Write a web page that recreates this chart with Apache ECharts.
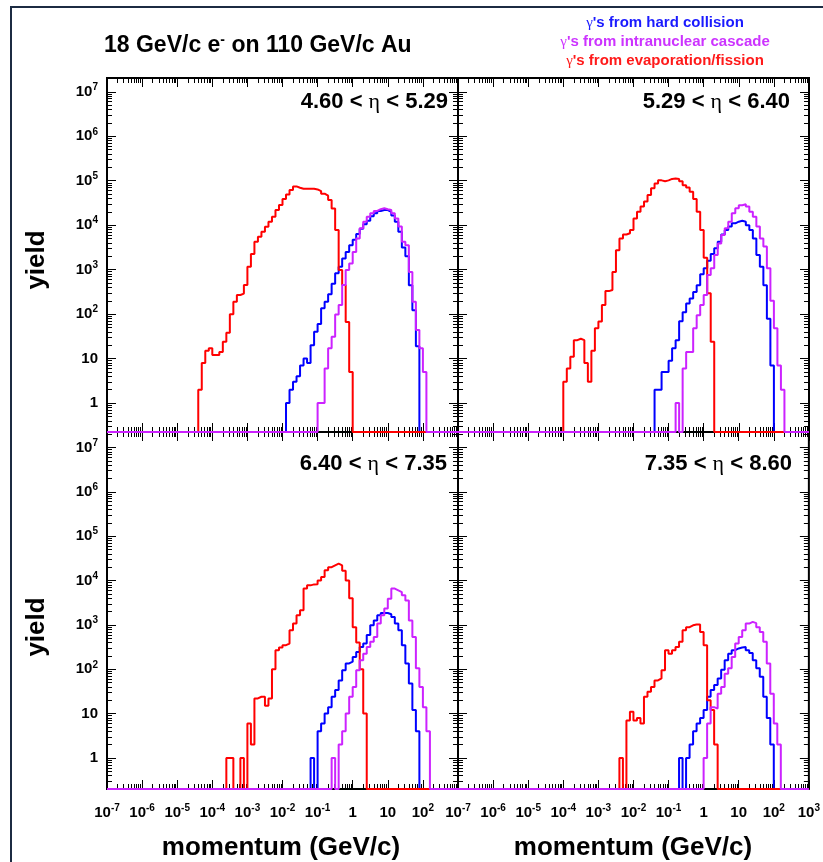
<!DOCTYPE html>
<html>
<head>
<meta charset="utf-8">
<script src="https://cdn.jsdelivr.net/npm/echarts@6/dist/echarts.min.js"></script>
<style>
  html, body { margin: 0; padding: 0; background: #fff; }
  #chart { width: 823px; height: 862px; }
</style>
</head>
<body>
<div id="chart"></div>
<script>
// momentum axis is log10(p / GeV/c), histogram bins are 0.1 decade wide
const logPMin = -7, logPMax = 3;
const binWidth = 0.1;

const etaLow = ['4.60', '5.29', '6.40', '7.35'];
const etaHigh = ['5.29', '6.40', '7.35', '8.60'];
const legendNames = ['hard collision', 'intranuclear cascade', 'evaporation/fission'];

// yields per bin; *Start = log10 of the low edge of the first bin
// panel 1 : 4.60 < eta < 5.29
const hard1Start = -1.9;
const hard1 = [1, 2, 3, 4, 7, 10, 8, 20, 40, 60, 135, 190, 280, 480, 830, 1170, 1780, 2510, 3550, 4680,
  6310, 8320, 10500, 12600, 15800, 18600, 20900, 21900, 21900, 20000, 16600, 12000, 7080, 3160, 2000, 447, 123, 19];
const cascade1Start = -1.0;
const cascade1 = [1, 1, 6, 17, 31, 98, 160, 450, 980, 1380, 2510, 5010, 8510, 12000, 15500, 18600, 20900, 22900,
  24000, 22900, 21900, 18600, 14100, 9330, 4270, 3550, 890, 190, 44, 17, 5];
const evap1Start = -4.4;
const evap1 = [2, 8, 15, 17, 12, 12, 14, 24, 38, 99, 190, 270, 290, 450, 1170, 2240, 4250, 5500, 7130, 9250,
  12000, 15500, 21900, 28400, 38700, 49300, 61700, 74600, 69600, 66100, 66100, 66100, 66100, 63800, 58600,
  51000, 46000, 36700, 23900, 7770, 980, 451, 67, 5];

// panel 2 : 5.29 < eta < 6.40
const hard2Start = -1.4;
const hard2 = [2, 2, 5, 5, 9, 17, 26, 69, 110, 174, 224, 316, 447, 794, 1070, 1580, 2240, 3020, 4270, 6170,
  7760, 9330, 11000, 12000, 12600, 12000, 10000, 7760, 5010, 2140, 1170, 447, 79, 7];
const cascade2Start = -0.8;
const cascade2 = [1, 0, 6, 14, 14, 48, 95, 160, 270, 760, 1070, 2140, 3890, 6030, 8510, 12000, 18600, 24000,
  28200, 29500, 26300, 20000, 15500, 9330, 5010, 3310, 1070, 200, 48, 7, 2];
const evap2Start = -4.0;
const evap2 = [3, 6, 11, 26, 28, 26, 8, 3, 15, 48, 68, 160, 330, 350, 890, 2750, 5000, 6170, 6610, 7760,
  14100, 20000, 26300, 33900, 47900, 67600, 87100, 102000, 97700, 102000, 110000, 112000, 110000, 97700,
  79400, 70800, 56200, 38900, 20000, 7760, 1860, 295, 24];

// panel 3 : 6.40 < eta < 7.35
const hard3Start = -1.2;
const hard3 = [1, 0, 4, 6, 10, 14, 24, 34, 56, 95, 135, 148, 190, 245, 316, 380, 590, 980, 1260, 1660,
  1860, 1860, 1740, 1510, 1070, 760, 350, 135, 48, 12, 4];
const cascade3Start = -0.6;
const cascade3 = [1, 0, 2, 4, 10, 24, 40, 95, 160, 224, 316, 417, 537, 1070, 1660, 2340, 3890, 6610, 6030,
  5500, 4680, 3550, 1260, 537, 105, 40, 14, 4];
const evap3Start = -3.6;
const evap3 = [1, 1, 0, 0, 1, 0, 6, 2, 22, 24, 24, 15, 22, 100, 270, 310, 350, 380, 760, 1070, 1650, 2140,
  6600, 7800, 8200, 8300, 10000, 12000, 17000, 20000, 22000, 24000, 22000, 16600, 10000, 4000, 890, 400, 100, 10];

// panel 4 : 7.35 < eta < 8.60
const hard4Start = -0.7;
const hard4 = [1, 0, 1, 2, 4, 6, 8, 12, 24, 34, 44, 62, 98, 160, 224, 270, 295, 309, 316, 270, 234, 160,
  105, 68, 24, 8, 2];
const cascade4Start = 0.0;
const cascade4 = [1, 6, 14, 13, 28, 40, 79, 105, 190, 380, 537, 760, 1070, 1170, 1100, 890, 690, 417, 135,
  28, 6, 2];
const evap4Start = -2.4;
const evap4 = [1, 0, 7, 11, 7, 8, 6, 24, 31, 40, 56, 62, 95, 270, 224, 270, 316, 417, 760, 890, 980, 1020,
  1020, 690, 350, 20, 12, 2];

const hists = [
  [[hard1Start, hard1], [evap1Start, evap1], [cascade1Start, cascade1]],
  [[hard2Start, hard2], [evap2Start, evap2], [cascade2Start, cascade2]],
  [[hard3Start, hard3], [evap3Start, evap3], [cascade3Start, cascade3]],
  [[hard4Start, hard4], [evap4Start, evap4], [cascade4Start, cascade4]]
];

const FONT = '"Liberation Sans", Arial, Helvetica, sans-serif';
const SERIF = '"Liberation Serif", serif';
const lineColors = ['#0000ff', '#ff0000', '#cc22ff'];
const textColors = ['#1a1aff', '#cc33ff', '#ff1a1a'];

const pads = [
  { left: 107, top: 78, width: 351, height: 354, yMin: -0.65, yMax: 7.31, xLabels: null, yLabels: true, labelX: 448, labelY: 102 },
  { left: 458, top: 78, width: 351, height: 354, yMin: -0.65, yMax: 7.31, xLabels: null, yLabels: false, labelX: 790, labelY: 102 },
  { left: 107, top: 432, width: 351, height: 357, yMin: -0.70, yMax: 7.35, xLabels: [-7, -6, -5, -4, -3, -2, -1, 0, 1, 2], yLabels: true, labelX: 447, labelY: 464 },
  { left: 458, top: 432, width: 351, height: 357, yMin: -0.70, yMax: 7.35, xLabels: [-7, -6, -5, -4, -3, -2, -1, 0, 1, 2, 3], yLabels: false, labelX: 792, labelY: 464 }
];

function decadeTicks(lo, hi) {
  const major = [], minor = [];
  for (let n = Math.floor(lo); n <= Math.ceil(hi); n++) {
    if (n >= lo && n <= hi) major.push(n);
    for (let k = 2; k <= 9; k++) {
      const v = n + Math.log10(k);
      if (v > lo && v < hi) minor.push(v);
    }
  }
  return { major, minor };
}

function powLabel(value) {
  const n = Math.round(value);
  if (n === 0) return '{b|1}';
  if (n === 1) return '{b|10}';
  return '{b|10}{s|' + n + '}';
}

const tickRich = {
  b: { fontFamily: FONT, fontSize: 15, fontWeight: 'bold', color: '#000', lineHeight: 22 },
  s: { fontFamily: FONT, fontSize: 10, fontWeight: 'bold', color: '#000', padding: [0, 0, 9, 0] }
};
const tickLine = { color: '#000', width: 1 };

function steps(start, values, floor) {
  const pts = [[logPMin, floor]];
  values.forEach(function (v, i) {
    pts.push([start + i * binWidth, v > 0 ? Math.log10(v) : floor]);
  });
  pts.push([start + values.length * binWidth, floor]);
  pts.push([logPMax, floor]);
  return pts;
}

const grid = [], xAxis = [], yAxis = [], series = [];
const xt = decadeTicks(logPMin, logPMax);

pads.forEach(function (p, g) {
  grid.push({ left: p.left, top: p.top, width: p.width, height: p.height, show: true,
    borderColor: '#000', borderWidth: 2, backgroundColor: 'transparent' });

  const yt = decadeTicks(p.yMin, p.yMax);
  const xb = { type: 'value', gridIndex: g, min: logPMin, max: logPMax,
    axisLine: { show: false, onZero: false }, splitLine: { show: false } };
  const yb = { type: 'value', gridIndex: g, min: p.yMin, max: p.yMax,
    axisLine: { show: false, onZero: false }, splitLine: { show: false } };

  ['bottom', 'top'].forEach(function (pos, i) {
    xAxis.push(Object.assign({}, xb, { position: pos,
      axisTick: { inside: true, length: 9, customValues: xt.major, lineStyle: tickLine },
      axisLabel: (i === 0 && p.xLabels) ? { show: true, customValues: p.xLabels, formatter: powLabel, rich: tickRich, margin: 13 } : { show: false } }));
  });
  ['bottom', 'top'].forEach(function (pos) {
    xAxis.push(Object.assign({}, xb, { position: pos,
      axisTick: { inside: true, length: 5, customValues: xt.minor, lineStyle: tickLine },
      axisLabel: { show: false } }));
  });
  ['left', 'right'].forEach(function (pos, i) {
    yAxis.push(Object.assign({}, yb, { position: pos,
      axisTick: { inside: true, length: 9, customValues: yt.major, lineStyle: tickLine },
      axisLabel: (i === 0 && p.yLabels) ? { show: true, customValues: yt.major, formatter: powLabel, rich: tickRich, margin: 9 } : { show: false } }));
  });
  ['left', 'right'].forEach(function (pos) {
    yAxis.push(Object.assign({}, yb, { position: pos,
      axisTick: { inside: true, length: 5, customValues: yt.minor, lineStyle: tickLine },
      axisLabel: { show: false } }));
  });

  hists[g].forEach(function (h, s) {
    series.push({
      type: 'line', xAxisIndex: g * 4, yAxisIndex: g * 4, step: 'end',
      data: steps(h[0], h[1], p.yMin), showSymbol: false, symbol: 'none', clip: true,
      lineStyle: { color: lineColors[s], width: 2 }, z: 3 + s, silent: true
    });
  });
});

const graphic = [
  { type: 'rect', silent: true, shape: { x: 11, y: 7, width: 900, height: 900 },
    style: { fill: 'none', stroke: '#1c2b42', lineWidth: 2 } },
  { type: 'text', x: 104, y: 46, silent: true,
    style: { text: '{t|18 GeV/c e}{m|-}{t| on 110 GeV/c Au}', align: 'left', verticalAlign: 'middle',
      rich: { t: { fontFamily: FONT, fontSize: 23, fontWeight: 'bold', fill: '#000', lineHeight: 30 },
              m: { fontFamily: FONT, fontSize: 14, fontWeight: 'bold', fill: '#000', padding: [0, 0, 12, 0] } } } }
];

legendNames.forEach(function (name, i) {
  const c = textColors[i];
  graphic.push({ type: 'text', x: 665, y: 23 + i * 19, silent: true,
    style: { text: '{g|γ}{t|\'s from ' + name + '}', align: 'center', verticalAlign: 'middle',
      rich: { g: { fontFamily: SERIF, fontSize: 15, fill: c },
              t: { fontFamily: FONT, fontSize: 15, fontWeight: 'bold', fill: c } } } });
});

pads.forEach(function (p, g) {
  graphic.push({ type: 'text', x: p.labelX, y: p.labelY, silent: true,
    style: { text: '{t|' + etaLow[g] + ' < }{e|η}{t| < ' + etaHigh[g] + '}', align: 'right', verticalAlign: 'middle',
      rich: { t: { fontFamily: FONT, fontSize: 22, fontWeight: 'bold', fill: '#000' },
              e: { fontFamily: SERIF, fontSize: 22, fill: '#000' } } } });
});

[260, 627].forEach(function (cy) {
  graphic.push({ type: 'text', x: 37, y: cy, rotation: Math.PI / 2, silent: true,
    style: { text: 'yield', align: 'center', verticalAlign: 'middle',
      fontFamily: FONT, fontSize: 26, fontWeight: 'bold', fill: '#000' } });
});
[281, 633].forEach(function (cx) {
  graphic.push({ type: 'text', x: cx, y: 848, silent: true,
    style: { text: 'momentum (GeV/c)', align: 'center', verticalAlign: 'middle',
      fontFamily: FONT, fontSize: 26, fontWeight: 'bold', fill: '#000' } });
});

const chart = echarts.init(document.getElementById('chart'));
chart.setOption({
  animation: false,
  backgroundColor: '#fff',
  grid: grid,
  xAxis: xAxis,
  yAxis: yAxis,
  series: series,
  graphic: graphic
});
</script>
</body>
</html>
